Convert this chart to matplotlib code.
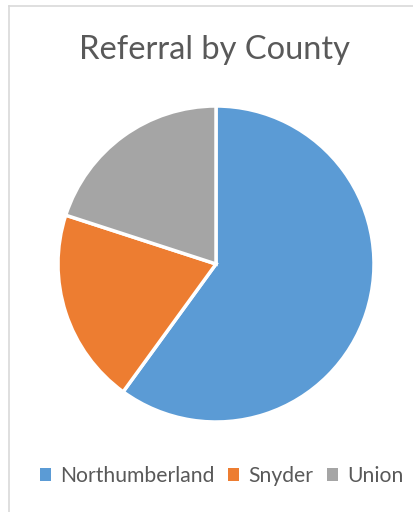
import matplotlib.pyplot as plt
from matplotlib.lines import Line2D
from matplotlib.patches import Patch

counties = ['Northumberland', 'Snyder', 'Union']
referrals = [60, 20, 20]
colors = ['#5B9BD5', '#ED7D31', '#A5A5A5']

plt.rcParams['font.family'] = ['Lato', 'DejaVu Sans']

W, H = 414, 512
fig = plt.figure(figsize=(W / 100, H / 100), dpi=100)

# chart border (only top and left visible in the crop)
fig.add_artist(Line2D([9 / W, 9 / W], [0, 1 - 6 / H], color='#D9D9D9', lw=1.2))
fig.add_artist(Line2D([9 / W, 1], [1 - 6 / H, 1 - 6 / H], color='#D9D9D9', lw=1.2))

cx, cy, r = 216, 264, 158
ax = fig.add_axes([(cx - r) / W, 1 - (cy + r) / H, 2 * r / W, 2 * r / H])
ax.pie(referrals, colors=colors, startangle=90, counterclock=False,
       wedgeprops=dict(edgecolor='white', linewidth=2.5))
ax.set_xlim(-1, 1)
ax.set_ylim(-1, 1)
ax.set_aspect('equal')
ax.axis('off')

fig.text(215 / W, 1 - 50 / H, 'Referral by County', ha='center', va='center',
         fontsize=23.5, color='#595959')

handles = [Patch(facecolor=c, edgecolor='none') for c in colors]
fig.legend(handles, counties, loc='center', bbox_to_anchor=(222 / W, 1 - 476 / H),
           ncol=3, frameon=False, fontsize=15.2, labelcolor='#595959',
           handlelength=0.5, handleheight=0.5, handletextpad=0.45, columnspacing=0.65)

fig.savefig('out.png', dpi=100)
